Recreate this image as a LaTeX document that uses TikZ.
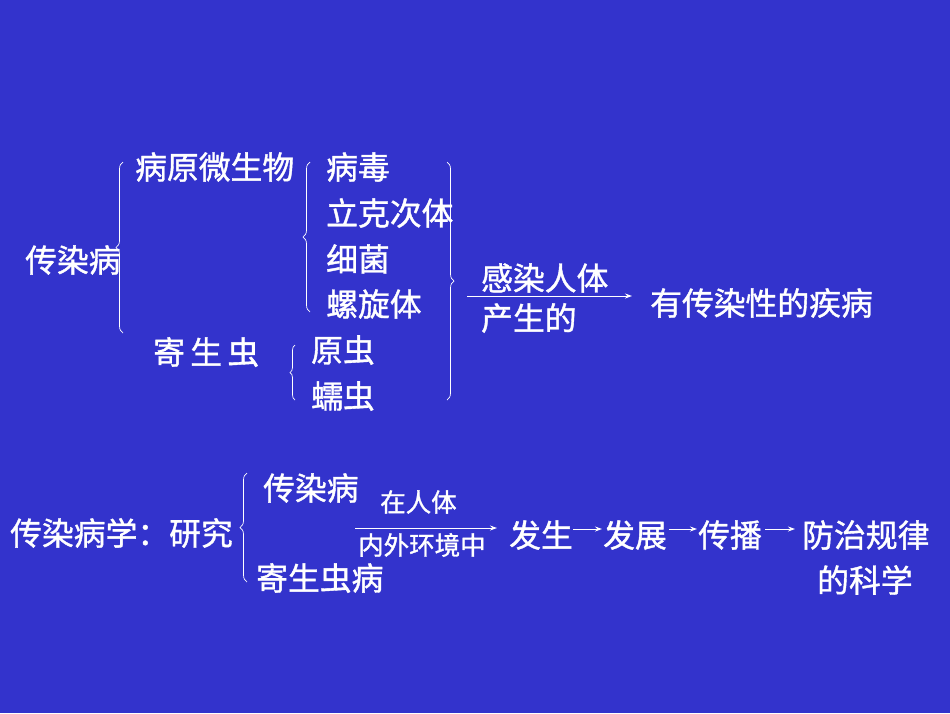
\documentclass[tikz,border=0pt]{standalone}
\usepackage{fontspec}
\setmainfont[FakeBold=1.2]{Noto Sans CJK SC}
\usetikzlibrary{decorations.pathreplacing, arrows.meta}
\definecolor{slide}{RGB}{51,51,204}
\begin{document}
\begin{tikzpicture}[x=1pt, y=-1pt,
                    word/.style = {anchor = west, inner sep = 0pt, text = white, font = \fontsize{31.8}{36}\selectfont},
                    small word/.style = {word, font = \fontsize{25.5}{30}\selectfont},
                    curly/.style = {draw = white, line width = 0.7pt, decorate, decoration = {brace, amplitude = 7pt}},
                    link/.style = {draw = white, line width = 0.9pt, -{Stealth[length = 7pt, width = 5pt]}}]
                    \fill [slide] (0, 0) rectangle (950, 713);
                    \useasboundingbox (0, 0) rectangle (950, 713);

                    % upper part
                    \node at (25, 260) [word] (disease) {传染病};
                    \node at (135, 167) [word] (pathogen) {病原微生物};
                    \node at (153, 352) [word] (parasite) {寄\,生\,虫};
                    \node at (326, 167) [word] (virus) {病毒};
                    \node at (326, 213) [word] (rickettsia) {立克次体};
                    \node at (326, 259) [word] (bacteria) {细菌};
                    \node at (326, 304) [word] (spirochete) {螺旋体};
                    \node at (311, 350) [word] (protozoa) {原虫};
                    \node at (311, 396) [word] (helminth) {蠕虫};
                    \node at (481, 278) [word] (infect) {感染人体};
                    \node at (481, 318) [word] (produce) {产生的};
                    \node at (650, 303) [word] (result) {有传染性的疾病};

                    \coordinate (brace1top) at (123, 162);
                    \coordinate (brace1bot) at (123, 333);
                    \coordinate (brace2top) at (310, 162);
                    \coordinate (brace2bot) at (310, 312);
                    \coordinate (brace3top) at (295, 345);
                    \coordinate (brace3bot) at (295, 400);
                    \coordinate (brace4top) at (447, 162);
                    \coordinate (brace4bot) at (447, 400);
                    \coordinate (infectstart) at (467, 296);

                    \draw [curly] (brace1bot) -- (brace1top);
                    \draw [curly] (brace2bot) -- (brace2top);
                    \draw [curly, decoration = {amplitude = 5pt}] (brace3bot) -- (brace3top);
                    \draw [curly] (brace4top) -- (brace4bot);
                    \draw [link, shorten >= 18pt] (infectstart) -- (infectstart -| result.west);

                    % lower part
                    \node at (10, 533) [word] (study) {传染病学：研究};
                    \node at (263, 488) [word] (infdisease) {传染病};
                    \node at (256, 578) [word] (parasitic) {寄生虫病};
                    \node at (380, 502) [small word] (inbody) {在人体};
                    \node at (358, 545) [small word] (environ) {内外环境中};
                    \node at (509, 535) [word] (occur) {发生};
                    \node at (603, 535) [word] (develop) {发展};
                    \node at (698, 535) [word] (spread) {传播};
                    \node at (802, 535) [word] (control) {防治规律};
                    \node at (817, 580) [word] (science) {的科学};

                    \coordinate (brace5top) at (247, 473);
                    \coordinate (brace5bot) at (247, 582);
                    \coordinate (envstart) at (355, 528);

                    \draw [curly] (brace5bot) -- (brace5top);
                    \draw [link, shorten >= 12pt] (envstart) -- (envstart -| occur.west);
                    \draw [link, shorten <= 0pt, shorten >= 1pt] (occur.east |- 0, 529) -- (develop.west |- 0, 529);
                    \draw [link, shorten <= 2pt, shorten >= 1pt] (develop.east |- 0, 529) -- (spread.west |- 0, 529);
                    \draw [link, shorten <= 3pt, shorten >= 7pt] (spread.east |- 0, 529) -- (control.west |- 0, 529);
\end{tikzpicture}
\end{document}
